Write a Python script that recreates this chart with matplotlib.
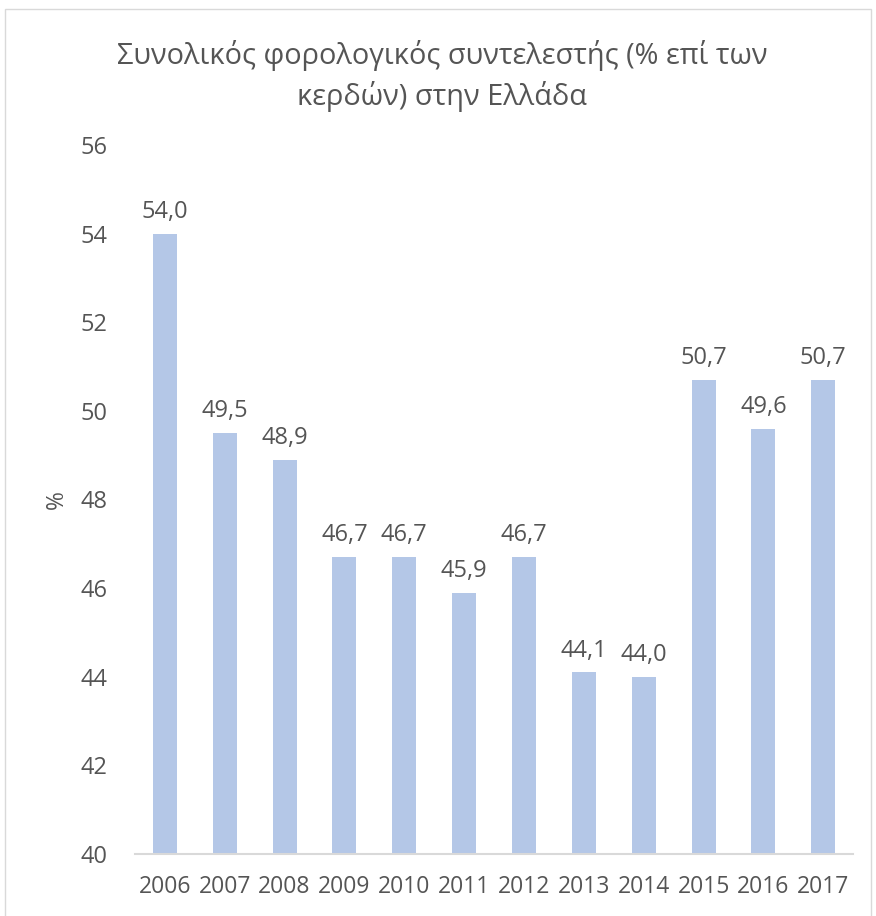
import matplotlib.pyplot as plt
from matplotlib.patches import Rectangle

plt.rcParams['font.family'] = ['Open Sans', 'DejaVu Sans']

years = ["2006", "2007", "2008", "2009", "2010", "2011",
         "2012", "2013", "2014", "2015", "2016", "2017"]
rates = [54.0, 49.5, 48.9, 46.7, 46.7, 45.9, 46.7, 44.1, 44.0, 50.7, 49.6, 50.7]

title = "Συνολικός φορολογικός συντελεστής (% επί των\nκερδών) στην Ελλάδα"
text_color = "#555555"
bar_color = "#B4C7E7"

fig = plt.figure(figsize=(8.76, 9.16), dpi=100)
ax = fig.add_axes([0.154, 0.0677, 0.820, 0.774])

x = list(range(len(years)))
ax.bar(x, rates, width=0.4, color=bar_color, zorder=2)

for xi, v in zip(x, rates):
    ax.text(xi, v + 0.22, f"{v:.1f}".replace(".", ","), ha="center", va="bottom",
            fontsize=17, color=text_color)

ax.set_ylim(40, 56)
ax.set_xlim(-0.5, len(years) - 0.5)
ax.set_yticks(range(40, 57, 2))
ax.set_xticks(x)
ax.set_xticklabels(years)
ax.tick_params(axis="both", length=0, labelsize=16.5, colors=text_color)
ax.tick_params(axis="y", pad=20, labelsize=17)
ax.tick_params(axis="x", pad=15)

for side in ["top", "right", "left"]:
    ax.spines[side].set_visible(False)
ax.spines["bottom"].set_color("#D9D9D9")
ax.spines["bottom"].set_linewidth(1.5)

ax.set_ylabel("%", fontsize=16.5, color=text_color, labelpad=8)

fig.text(0.505, 0.956, title, ha="center", va="top", fontsize=20.8,
         color=text_color, linespacing=1.42)

# chart frame
fig.patches.append(Rectangle((0.006, -0.01), 0.988, 1.0, transform=fig.transFigure,
                             fill=False, edgecolor="#D9D9D9", linewidth=1.0))

fig.savefig("out.png", dpi=100)
